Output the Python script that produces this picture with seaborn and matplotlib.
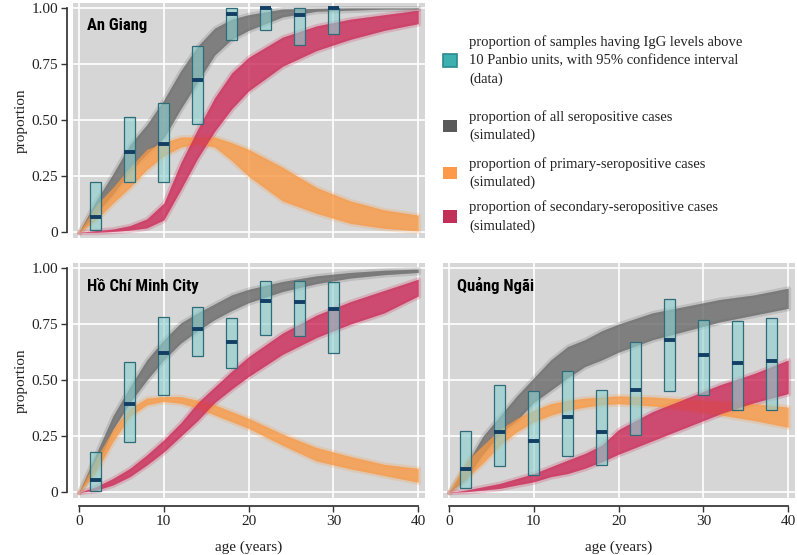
import numpy as np
import seaborn as sns
import matplotlib
matplotlib.use("Agg")
from matplotlib import pyplot as plt
from matplotlib.patches import Patch

# ages at which the simulated bands were read off
AGES = [0, 2, 4, 6, 8, 10, 12, 14, 16, 18, 20, 24, 28, 32, 36, 40]

# An Giang
ag_grey_lo = [0, 0.08, 0.17, 0.27, 0.35, 0.42, 0.55, 0.67, 0.79, 0.86, 0.90, 0.96, 0.985, 0.99, 0.995, 0.995]
ag_grey_hi = [0, 0.14, 0.26, 0.39, 0.48, 0.59, 0.72, 0.83, 0.91, 0.95, 0.97, 0.995, 0.998, 1.0, 1.0, 1.0]
ag_orange_lo = [0, 0.055, 0.13, 0.20, 0.28, 0.34, 0.38, 0.395, 0.38, 0.32, 0.25, 0.14, 0.085, 0.04, 0.018, 0.007]
ag_orange_hi = [0, 0.12, 0.20, 0.29, 0.37, 0.40, 0.425, 0.425, 0.425, 0.40, 0.37, 0.29, 0.20, 0.14, 0.10, 0.077]
ag_crimson_lo = [0, 0.0, 0.004, 0.01, 0.02, 0.055, 0.19, 0.33, 0.45, 0.55, 0.63, 0.74, 0.81, 0.86, 0.90, 0.93]
ag_crimson_hi = [0, 0.008, 0.015, 0.03, 0.06, 0.13, 0.31, 0.46, 0.60, 0.71, 0.78, 0.87, 0.92, 0.95, 0.97, 0.99]
ag_ages = [2, 6, 10, 14, 18, 22, 26, 30]
ag_med = [0.068, 0.36, 0.393, 0.677, 0.972, 1.0, 0.969, 1.0]
ag_lo = [0.01, 0.225, 0.225, 0.484, 0.858, 0.902, 0.837, 0.884]
ag_hi = [0.225, 0.514, 0.578, 0.831, 0.998, 1.0, 1.0, 1.0]

# Ho Chi Minh City
hcm_grey_lo = [0, 0.11, 0.28, 0.40, 0.50, 0.59, 0.665, 0.72, 0.77, 0.81, 0.845, 0.895, 0.93, 0.955, 0.97, 0.98]
hcm_grey_hi = [0, 0.17, 0.34, 0.47, 0.59, 0.68, 0.755, 0.80, 0.84, 0.88, 0.905, 0.94, 0.965, 0.98, 0.99, 0.995]
hcm_orange_lo = [0, 0.09, 0.226, 0.338, 0.39, 0.405, 0.397, 0.375, 0.345, 0.315, 0.285, 0.21, 0.14, 0.105, 0.075, 0.045]
hcm_orange_hi = [0, 0.15, 0.28, 0.375, 0.42, 0.427, 0.427, 0.41, 0.39, 0.36, 0.33, 0.26, 0.20, 0.16, 0.125, 0.107]
hcm_crimson_lo = [0, 0.009, 0.033, 0.07, 0.122, 0.18, 0.25, 0.32, 0.40, 0.46, 0.516, 0.615, 0.69, 0.75, 0.80, 0.875]
hcm_crimson_hi = [0, 0.025, 0.062, 0.107, 0.167, 0.234, 0.31, 0.40, 0.47, 0.54, 0.605, 0.71, 0.79, 0.85, 0.90, 0.95]
hcm_ages = [2, 6, 10, 14, 18, 22, 26, 30]
hcm_med = [0.055, 0.394, 0.619, 0.728, 0.671, 0.851, 0.848, 0.815]
hcm_lo = [0.007, 0.226, 0.435, 0.609, 0.554, 0.701, 0.696, 0.62]
hcm_hi = [0.182, 0.579, 0.780, 0.826, 0.777, 0.943, 0.940, 0.9375]

# Quang Ngai
qn_grey_lo = [0, 0.06, 0.17, 0.26, 0.32, 0.40, 0.455, 0.51, 0.56, 0.59, 0.625, 0.68, 0.72, 0.76, 0.79, 0.82]
qn_grey_hi = [0, 0.12, 0.25, 0.34, 0.43, 0.51, 0.59, 0.65, 0.68, 0.72, 0.75, 0.80, 0.83, 0.86, 0.88, 0.91]
qn_orange_lo = [0, 0.062, 0.13, 0.21, 0.27, 0.314, 0.344, 0.366, 0.38, 0.39, 0.395, 0.385, 0.37, 0.345, 0.32, 0.29]
qn_orange_hi = [0, 0.136, 0.21, 0.28, 0.33, 0.366, 0.395, 0.41, 0.42, 0.425, 0.43, 0.425, 0.415, 0.405, 0.395, 0.38]
qn_crimson_lo = [0, 0.003, 0.01, 0.018, 0.033, 0.047, 0.07, 0.084, 0.107, 0.136, 0.17, 0.23, 0.29, 0.35, 0.40, 0.44]
qn_crimson_hi = [0, 0.01, 0.025, 0.04, 0.062, 0.084, 0.114, 0.144, 0.173, 0.21, 0.28, 0.36, 0.42, 0.48, 0.53, 0.59]
qn_ages = [2, 6, 10, 14, 18, 22, 26, 30, 34, 38]
qn_med = [0.104, 0.27, 0.228, 0.335, 0.268, 0.458, 0.681, 0.61, 0.578, 0.584]
qn_lo = [0.021, 0.116, 0.079, 0.164, 0.124, 0.255, 0.452, 0.436, 0.367, 0.366]
qn_hi = [0.274, 0.479, 0.453, 0.541, 0.458, 0.671, 0.861, 0.767, 0.764, 0.778]

legend_labels = [
    "proportion of samples having IgG levels above\n10 Panbio units, with 95% confidence interval\n(data)",
    "proportion of all seropositive cases\n(simulated)",
    "proportion of primary-seropositive cases\n(simulated)",
    "proportion of secondary-seropositive cases\n(simulated)",
]

GREY = "#6a6a6a"
ORANGE = "#f89a45"
CRIMSON = "#cc2a57"
BOX_FACE = (0.55, 0.82, 0.82, 0.62)
BOX_EDGE = "#2f6b78"
MED_COL = "#123f63"
AXIS_COL = "#333333"
TITLE_FONT = ["Roboto Condensed", "Roboto", "DejaVu Sans"]


def draw_panel(ax, name, bands, ages, med, lo, hi):
    for (b_lo, b_hi), color in zip(bands, [GREY, ORANGE, CRIMSON]):
        # soft halo then dense core, to look like a bundle of runs
        ax.fill_between(AGES, b_lo, b_hi, color=color, alpha=0.22, lw=3.5, zorder=2)
        ax.fill_between(AGES, b_lo, b_hi, color=color, alpha=0.75, lw=0, zorder=3)

    ages = np.array(ages)
    ax.bar(ages, np.subtract(hi, lo), bottom=lo, width=1.3, facecolor=BOX_FACE,
           edgecolor=BOX_EDGE, linewidth=0.9, zorder=5)
    ax.hlines(med, ages - 0.65, ages + 0.65, color=MED_COL, lw=2.8, zorder=6)

    ax.text(0.95, 0.92, name, fontsize=12, fontweight="bold", fontstretch="condensed",
            family=TITLE_FONT, color="black", va="center", ha="left", zorder=7)

    ax.set_xlim(-0.7, 40.8)
    ax.set_ylim(-0.025, 1.022)
    ax.set_xticks([0, 10, 20, 30, 40])
    ax.set_yticks([0, 0.25, 0.5, 0.75, 1.0])
    ax.set_yticklabels(["0", "0.25", "0.50", "0.75", "1.00"])
    ax.set_axisbelow(True)
    for s in ax.spines.values():
        s.set_visible(False)


sns.set_theme(style="darkgrid", rc={
    "axes.facecolor": "#d6d6d6",
    "grid.color": "white",
    "grid.linewidth": 1.2,
})
plt.rcParams["font.family"] = ["Liberation Serif", "DejaVu Serif"]

fig = plt.figure(figsize=(7.97, 5.55), dpi=100)
ax_ag = fig.add_axes([0.0916, 0.5712, 0.4417, 0.4234])
ax_hcm = fig.add_axes([0.0916, 0.1027, 0.4417, 0.4234])
ax_qn = fig.add_axes([0.5558, 0.1027, 0.4417, 0.4234])

draw_panel(ax_ag, "An Giang",
           [(ag_grey_lo, ag_grey_hi), (ag_orange_lo, ag_orange_hi), (ag_crimson_lo, ag_crimson_hi)],
           ag_ages, ag_med, ag_lo, ag_hi)
draw_panel(ax_hcm, "Hồ Chí Minh City",
           [(hcm_grey_lo, hcm_grey_hi), (hcm_orange_lo, hcm_orange_hi), (hcm_crimson_lo, hcm_crimson_hi)],
           hcm_ages, hcm_med, hcm_lo, hcm_hi)
draw_panel(ax_qn, "Quảng Ngãi",
           [(qn_grey_lo, qn_grey_hi), (qn_orange_lo, qn_orange_hi), (qn_crimson_lo, qn_crimson_hi)],
           qn_ages, qn_med, qn_lo, qn_hi)

# left axes: range-frame y axis
for ax in [ax_ag, ax_hcm]:
    ax.spines["left"].set_visible(True)
    ax.spines["left"].set_position(("outward", 4.5))
    ax.spines["left"].set_bounds(0, 1)
    ax.spines["left"].set_color(AXIS_COL)
    ax.tick_params(axis="y", left=True, length=4, width=1, color=AXIS_COL,
                   labelsize=11, pad=2, labelcolor="#222222")
    ax.set_ylabel("proportion", fontsize=11, labelpad=3, color="#222222")

# bottom axes: range-frame x axis
for ax in [ax_hcm, ax_qn]:
    ax.spines["bottom"].set_visible(True)
    ax.spines["bottom"].set_position(("outward", 6))
    ax.spines["bottom"].set_bounds(0, 40)
    ax.spines["bottom"].set_color(AXIS_COL)
    ax.tick_params(axis="x", bottom=True, length=4, width=1, color=AXIS_COL,
                   labelsize=11, pad=2, labelcolor="#222222")
    ax.set_xlabel("age (years)", fontsize=11, labelpad=9, color="#222222")

ax_ag.tick_params(axis="x", bottom=False, labelbottom=False)
ax_qn.tick_params(axis="y", left=False, labelleft=False)

handles = [
    Patch(facecolor="#3fb0b0", edgecolor="#2a8a8f", linewidth=1.2),
    Patch(facecolor="#5a5a5a", edgecolor="none"),
    Patch(facecolor="#fc9a4a", edgecolor="none"),
    Patch(facecolor="#c2305a", edgecolor="none"),
]
# one legend per entry: the gaps between entries are uneven in the original
legend_y = [0.891, 0.773, 0.688, 0.610]
for handle, label, y in zip(handles, legend_labels, legend_y):
    leg = fig.legend([handle], [label], loc="center left", bbox_to_anchor=(0.556, y),
                     frameon=False, fontsize=10.5, handlelength=0.95, handleheight=0.95,
                     handletextpad=0.85, borderpad=0, borderaxespad=0)
    for t in leg.get_texts():
        t.set_linespacing(1.5)
        t.set_color("#222222")

fig.savefig("out.png", dpi=100)
